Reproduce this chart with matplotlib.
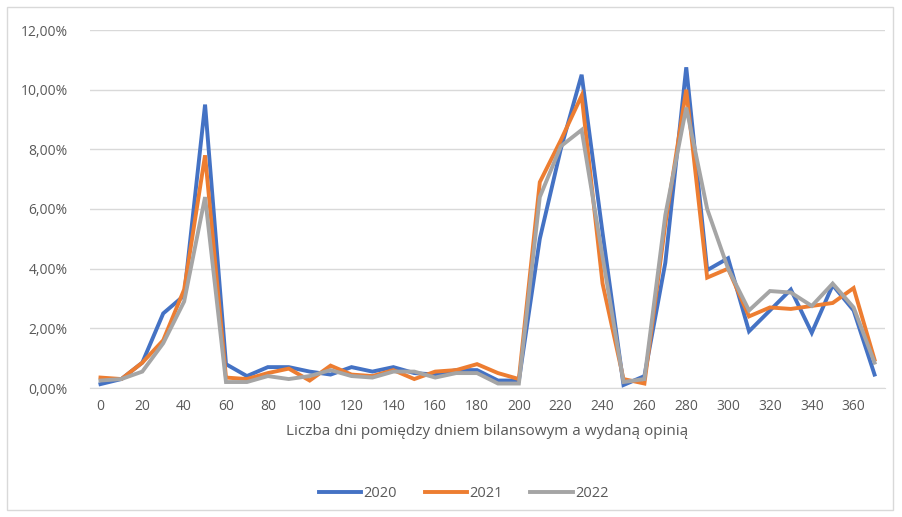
import matplotlib
matplotlib.use("Agg")
import matplotlib.pyplot as plt
from matplotlib.ticker import FuncFormatter
from matplotlib.patches import Rectangle

# days between balance sheet date and the opinion (every 10 days)
days = list(range(0, 380, 10))

# share of opinions, in %
y2020 = [0.13, 0.3, 0.85, 2.5, 3.1, 9.5, 0.8, 0.4, 0.7, 0.7,
         0.55, 0.45, 0.7, 0.55, 0.7, 0.5, 0.45, 0.6, 0.6, 0.25,
         0.25, 5.0, 8.0, 10.5, 5.2, 0.1, 0.4, 4.2, 10.75, 3.95,
         4.35, 1.9, 2.6, 3.3, 1.85, 3.45, 2.6, 0.45]
y2021 = [0.35, 0.3, 0.85, 1.6, 3.3, 7.8, 0.35, 0.3, 0.5, 0.65,
         0.25, 0.75, 0.45, 0.4, 0.6, 0.3, 0.55, 0.6, 0.8, 0.5,
         0.3, 6.9, 8.3, 9.8, 3.5, 0.3, 0.15, 5.5, 10.0, 3.7,
         4.0, 2.4, 2.7, 2.65, 2.75, 2.85, 3.35, 0.95]
y2022 = [0.25, 0.3, 0.55, 1.5, 2.9, 6.4, 0.2, 0.2, 0.4, 0.3,
         0.4, 0.6, 0.4, 0.35, 0.55, 0.55, 0.35, 0.5, 0.5, 0.15,
         0.15, 6.4, 8.1, 8.65, 4.4, 0.2, 0.3, 5.8, 9.4, 6.0,
         4.0, 2.6, 3.25, 3.2, 2.75, 3.5, 2.7, 0.85]

series = [("2020", y2020, "#4472C4"), ("2021", y2021, "#ED7D31"), ("2022", y2022, "#A5A5A5")]

plt.rcParams['font.family'] = ['Open Sans', 'DejaVu Sans']
text_col = "#595959"

fig = plt.figure(figsize=(9.02, 5.17), dpi=100)
ax = fig.add_axes([90 / 902, 1 - 388 / 517, (885 - 90) / 902, (388 - 30) / 517])

for name, vals, col in series:
    ax.plot(days, vals, color=col, lw=2.8, label=name, solid_joinstyle="miter")

ax.set_xlim(-5, 375)
ax.set_ylim(0, 12)
ax.set_xticks(range(0, 361, 20))
ax.set_yticks(range(0, 13, 2))
ax.yaxis.set_major_formatter(FuncFormatter(lambda v, p: f"{v:.2f}%".replace(".", ",")))
ax.grid(axis="y", color="#D9D9D9", lw=1)
ax.set_axisbelow(True)
for s in ["top", "right", "left"]:
    ax.spines[s].set_visible(False)
ax.spines["bottom"].set_color("#D9D9D9")
ax.tick_params(length=0, colors=text_col, labelsize=10)
ax.tick_params(axis="y", pad=16)
ax.tick_params(axis="x", pad=8)
ax.set_xlabel("Liczba dni pomiędzy dniem bilansowym a wydaną opinią", color=text_col,
              fontsize=11, labelpad=7)

ax.legend(loc="center", bbox_to_anchor=(0.47, -0.295), ncol=3, frameon=False,
          fontsize=10.5, labelcolor=text_col, handlelength=2.9, columnspacing=1.9,
          handletextpad=0.15)

fig.patches.append(Rectangle((7 / 902, 7 / 517), 886 / 902, 503 / 517, transform=fig.transFigure,
                             fill=False, edgecolor="#D9D9D9", lw=1))

fig.savefig("out.png", dpi=100)
